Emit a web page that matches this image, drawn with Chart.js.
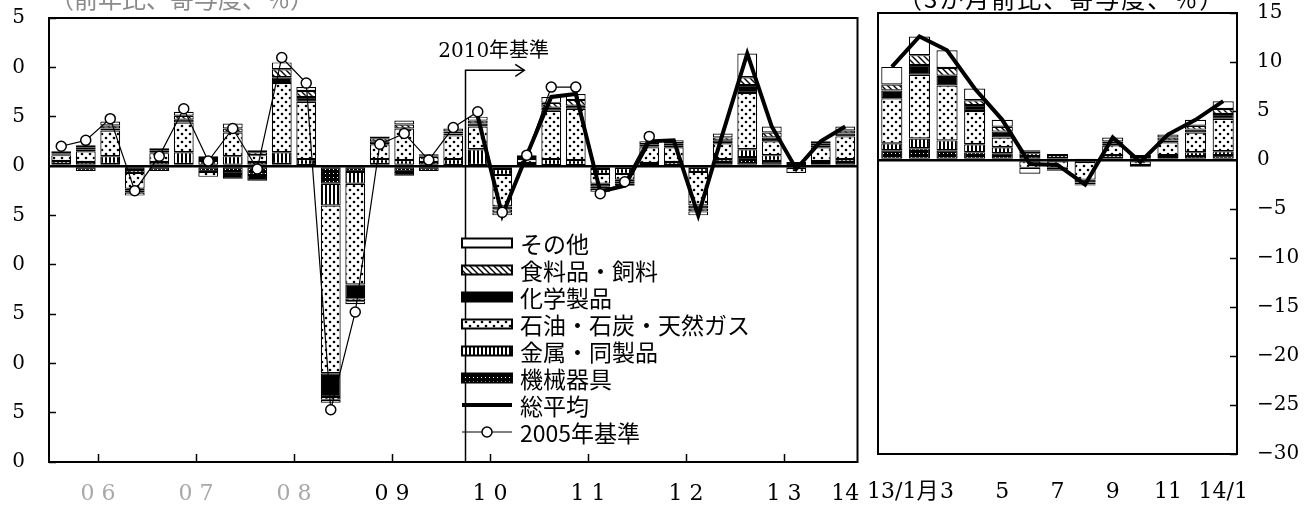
<!DOCTYPE html>
<html>
<head>
<meta charset="utf-8">
<script src="https://cdn.jsdelivr.net/npm/chart.js@4.4.1/dist/chart.umd.min.js"></script>
<style>
  html, body { margin: 0; padding: 0; background: #fff; width: 1304px; height: 506px; overflow: hidden; position: relative; }
  #leftWrap { position: absolute; left: 12px; top: 0; width: 852px; height: 506px; overflow: hidden; }
  #leftChart { position: absolute; left: -60px; top: 0; }
  #rightChart { position: absolute; left: 862px; top: 0; }
  .cap { position: absolute; top: -14px; font-family: "Noto Sans CJK JP", sans-serif; font-size: 24px; line-height: 1; white-space: nowrap; }
</style>
</head>
<body>
<div id="leftWrap"><canvas id="leftChart" width="912" height="506"></canvas></div>
<canvas id="rightChart" width="442" height="506"></canvas>
<div class="cap" style="left:50px; color:#8a8a8a;">（前年比、寄与度、％）</div>
<div class="cap" style="left:898px; letter-spacing:2px;">（3か月前比、寄与度、％）</div>

<script>
// ---- data -------------------------------------------------------------
// Component names, bottom of the stack first
const seriesNames = ['機械器具', '金属・同製品', '石油・石炭・天然ガス', '化学製品', '食料品・飼料', 'その他'];
const totalName = '総平均';
const oldBaseName = '2005年基準';

// Quarterly contributions, 2006 Q1 .. 2014 Q1 (33 quarters)
const qMachinery = [0.2,-0.5,0.2,-0.4,-0.5,0.2,-0.6,-0.8,-0.9,0.2,0.1,-1.8,-0.6,0.2,-0.6,-0.5,0.1,0.1,-0.3,0.1,0.1,0.1,-0.3,-0.2,0.1,0.1,-0.2,0.4,0.9,0.5,0.1,0.3,0.4];
const qMetals    = [0.3,0.4,0.8,-0.3,0.4,1.2,0.5,1.0,0.4,1.2,0.6,-2.2,-1.2,0.5,0.6,0.4,0.6,1.6,-0.6,0.2,0.6,0.5,-0.5,-0.6,0.2,0.3,-0.4,0.3,0.8,0.6,-0.2,0.2,0.3];
const qFuel      = [0.6,1.1,2.6,-1.6,0.9,3.0,-0.5,2.4,0.7,7.0,5.8,-17.0,-10.2,1.5,3.2,0.5,2.4,2.3,-3.2,0.4,4.9,5.2,-1.0,-0.6,1.6,1.5,-3.4,1.6,5.7,1.4,-0.5,1.4,2.3];
const qChem      = [0.1,0.2,0.2,-0.2,0.1,0.3,0.1,-0.5,-0.6,0.6,0.5,-2.4,-1.4,0.3,-0.4,0.1,0.2,0.3,-0.3,0.1,0.3,0.3,-0.3,-0.2,0.1,0.2,-0.3,0.3,0.8,0.4,0.1,0.2,0.3];
const qFood      = [0.1,0.2,0.3,-0.2,0.2,0.4,0.2,0.4,0.3,0.8,0.6,-0.3,-0.3,0.3,0.4,0.1,0.2,0.3,-0.3,0.1,0.5,0.6,-0.2,-0.2,0.2,0.2,-0.3,0.3,0.8,0.5,0.1,0.2,0.3];
const qOther     = [0.2,0.2,0.4,-0.3,0.2,0.4,0.2,0.5,0.2,0.7,0.4,-0.3,-0.3,0.2,0.4,0.1,0.3,0.4,-0.3,0.2,0.6,0.6,-0.3,-0.2,0.3,0.3,-0.4,0.4,2.4,0.6,0.1,0.2,0.4];
// Overall average on the 2010 base, from 2010 Q2 (quarter index 17)
const qTotalFrom = 17;
const qTotal     = [5.0,-5.0,1.1,7.0,7.3,-2.6,-2.0,2.5,2.6,-5.0,3.3,11.4,4.0,-0.3,2.5,4.0];
// Overall average on the 2005 base, 2006 Q1 .. 2012 Q1
const qOldBase   = [2.0,2.6,4.8,-2.5,1.0,5.8,0.5,3.8,-0.3,11.0,8.4,-24.7,-14.8,2.2,3.3,0.6,3.9,5.5,-4.7,1.1,8.0,8.0,-2.8,-1.6,3.0];
const yearLabels = ['0 6', '0 7', '0 8', '0 9', '1 0', '1 1', '1 2', '1 3', '14'];

// Monthly contributions, 2013/1 .. 2014/1
const monthLabels = ['\u2002\u200213/1月', '', '3', '', '5', '', '7', '', '9', '', '11', '', '14/1'];
const mMachinery = [1.0,1.2,1.0,0.8,0.7,0.4,0.2,-0.2,0.2,0.2,0.3,0.4,0.5];
const mMetals    = [0.7,1.0,1.0,0.8,0.6,0.3,0.3,0.1,0.3,0.1,0.2,0.4,0.4];
const mFuel      = [4.6,6.5,5.6,3.4,1.0,-0.8,-0.8,-1.8,1.0,-0.5,1.3,2.0,3.3];
const mChem      = [0.8,1.0,1.0,0.6,0.6,0.2,0.1,-0.3,0.2,0.1,0.2,0.3,0.5];
const mFood      = [0.6,1.0,0.8,0.5,0.5,0.1,-0.2,-0.2,0.2,0.1,0.3,0.4,0.5];
const mOther     = [1.8,1.9,1.8,1.2,0.7,-0.6,-0.1,-0.1,0.4,-0.2,0.3,0.6,0.8];
const mTotal     = [9.5,12.6,11.2,7.3,4.1,-0.4,-0.5,-2.5,2.3,-0.2,2.6,4.1,6.0];

// ---- styling helpers ---------------------------------------------------
Chart.defaults.animation = false;
Chart.defaults.font.family = '"DejaVu Serif", "Noto Sans CJK JP", serif';
Chart.defaults.color = '#000';

function makeFills(ctx) {
  function tile(w, h, draw) {
    const c = document.createElement('canvas');
    c.width = w; c.height = h;
    draw(c.getContext('2d'));
    return ctx.createPattern(c, 'repeat');
  }
  const dot = (g, x, y) => { g.beginPath(); g.arc(x, y, 1.3, 0, Math.PI * 2); g.fill(); };
  return [
    tile(4, 4, g => { g.fillStyle = '#000'; g.fillRect(0, 0, 4, 4); g.fillStyle = '#fff'; g.fillRect(1, 1, 1, 1); }),
    tile(4, 4, g => { g.fillStyle = '#fff'; g.fillRect(0, 0, 4, 4); g.fillStyle = '#000'; g.fillRect(1, 0, 2, 4); }),
    tile(8, 8, g => { g.fillStyle = '#fff'; g.fillRect(0, 0, 8, 8); g.fillStyle = '#000'; dot(g, 2, 2); dot(g, 6, 6); }),
    '#000',
    tile(6, 6, g => {
      g.fillStyle = '#fff'; g.fillRect(0, 0, 6, 6);
      g.strokeStyle = '#000'; g.lineWidth = 1.4; g.beginPath();
      g.moveTo(-1, -1); g.lineTo(7, 7); g.moveTo(-1, 5); g.lineTo(1, 7); g.moveTo(5, -1); g.lineTo(7, 1);
      g.stroke();
    }),
    '#fff'
  ];
}

const fmt = v => (v < 0 ? '\u2212' + Math.abs(v) : String(v));
const zeroGrid = {
  color: c => (c.tick && c.tick.value === 0 ? '#000' : 'rgba(0,0,0,0)'),
  lineWidth: c => (c.tick && c.tick.value === 0 ? 2.5 : 1),
  tickColor: '#000', tickLength: -7, tickWidth: 1.5, drawOnChartArea: true
};

const framePlugin = {
  id: 'frame',
  afterDraw(chart) {
    const { ctx, chartArea: a } = chart;
    ctx.save();
    ctx.strokeStyle = '#000'; ctx.lineWidth = 2;
    ctx.strokeRect(a.left, a.top, a.right - a.left, a.bottom - a.top);
    ctx.restore();
  }
};

// Marker for the switch to the 2010 base, with arrow and caption
const rebasePlugin = {
  id: 'rebase',
  afterDatasetsDraw(chart) {
    const xs = chart.scales.x, ys = chart.scales.y, { ctx, chartArea } = chart;
    const x = xs.getPixelForValue(qTotalFrom);
    const yA = ys.getPixelForValue(9.7);
    const xEnd = xs.getPixelForValue(qTotalFrom + 2.4);
    ctx.save();
    ctx.strokeStyle = '#000'; ctx.lineWidth = 1.5;
    ctx.beginPath(); ctx.moveTo(x, chartArea.bottom); ctx.lineTo(x, yA); ctx.lineTo(xEnd, yA); ctx.stroke();
    ctx.beginPath(); ctx.moveTo(xEnd - 9, yA - 6); ctx.lineTo(xEnd, yA); ctx.lineTo(xEnd - 9, yA + 6); ctx.stroke();
    ctx.fillStyle = '#000';
    ctx.font = '20px "DejaVu Serif", "Noto Sans CJK JP"';
    ctx.textAlign = 'center'; ctx.textBaseline = 'middle';
    ctx.fillText('2010年基準', xs.getPixelForValue(qTotalFrom + 1.15), ys.getPixelForValue(11.6));
    ctx.restore();
  }
};

// Key drawn inside the plot, taking styles from the datasets
const keyPlugin = {
  id: 'key',
  afterDraw(chart) {
    const { ctx, chartArea: a } = chart;
    const ds = chart.data.datasets;
    const items = ds.filter(d => d.type === 'bar').reverse()
      .concat(ds.filter(d => d.label === totalName), ds.filter(d => d.label === oldBaseName));
    const x0 = a.left + 413, y0 = a.top + 225, row = 27, sw = 50, sh = 9;
    ctx.save();
    ctx.font = '23px "Noto Sans CJK JP"';
    ctx.textBaseline = 'middle'; ctx.textAlign = 'left';
    items.forEach((d, i) => {
      const cy = y0 + i * row;
      ctx.strokeStyle = '#000'; ctx.fillStyle = '#000';
      if (d.type === 'bar') {
        ctx.fillStyle = d.backgroundColor;
        ctx.fillRect(x0, cy - sh / 2, sw, sh);
        ctx.lineWidth = 2;
        ctx.strokeRect(x0, cy - sh / 2, sw, sh);
      } else {
        ctx.lineWidth = d.borderWidth;
        ctx.beginPath(); ctx.moveTo(x0, cy); ctx.lineTo(x0 + sw, cy); ctx.stroke();
        if (d.pointRadius) {
          ctx.fillStyle = '#fff'; ctx.lineWidth = 1.5;
          ctx.beginPath(); ctx.arc(x0 + sw / 2, cy, d.pointRadius, 0, Math.PI * 2); ctx.fill(); ctx.stroke();
        }
      }
      ctx.fillStyle = '#000';
      ctx.fillText(d.label, x0 + sw + 8, cy + 1);
    });
    ctx.restore();
  }
};

// ---- quarterly panel ---------------------------------------------------
const leftCanvas = document.getElementById('leftChart');
const leftFills = makeFills(leftCanvas.getContext('2d'));
const qSeries = [qMachinery, qMetals, qFuel, qChem, qFood, qOther];
const yearBounds = [0, 4, 8, 12, 16, 20, 24, 28, 32];
const yearLabelAt = [2, 6, 10, 14, 18, 22, 26, 30, 32.5];

new Chart(leftCanvas, {
  type: 'bar',
  data: {
    datasets: [
      ...qSeries.map((arr, i) => ({
        type: 'bar', label: seriesNames[i],
        data: arr.map((v, k) => ({ x: k + 0.5, y: v })),
        backgroundColor: leftFills[i], borderColor: '#000', borderWidth: 1.2, borderSkipped: false,
        stack: 'parts', order: 2, categoryPercentage: 0.9, barPercentage: 0.9
      })),
      {
        type: 'line', label: totalName,
        data: qTotal.map((v, i) => ({ x: qTotalFrom + i + 0.5, y: v })),
        borderColor: '#000', borderWidth: 4, pointRadius: 0, stack: 'total', order: 1
      },
      {
        type: 'line', label: oldBaseName,
        data: qOldBase.map((v, k) => ({ x: k + 0.5, y: v })),
        borderColor: '#000', borderWidth: 1.2, pointRadius: 5,
        pointBackgroundColor: '#fff', pointBorderColor: '#000', pointBorderWidth: 1.5,
        stack: 'old', order: 0
      }
    ]
  },
  options: {
    responsive: false, devicePixelRatio: 1, events: [],
    layout: { padding: { left: 0, top: 18, right: 4, bottom: 0 } },
    plugins: { legend: { display: false }, tooltip: { enabled: false } },
    scales: {
      x: {
        type: 'linear', min: 0, max: 33, stacked: true, offset: false, position: 'bottom',
        afterBuildTicks: s => { s.ticks = yearBounds.map(v => ({ value: v })); },
        afterFit: s => { s.height = 0; s.paddingLeft = 0; s.paddingRight = 0; },
        grid: { drawOnChartArea: false, drawTicks: true, tickLength: -8, tickColor: '#000', tickWidth: 1.5, color: '#000' },
        border: { display: false },
        ticks: { display: false }
      },
      xLab: {
        type: 'linear', axis: 'x', min: 0, max: 33, offset: false, position: 'bottom',
        afterBuildTicks: s => { s.ticks = yearLabelAt.map(v => ({ value: v })); },
        afterFit: s => { s.height = 44; s.paddingLeft = 0; s.paddingRight = 0; },
        grid: { display: true, drawOnChartArea: false, drawTicks: false, color: 'rgba(0,0,0,0)' },
        border: { display: false },
        ticks: {
          autoSkip: false, maxRotation: 0, padding: 19, font: { size: 22 },
          color: c => (c.index < 3 ? '#a8a8a8' : '#000'),
          callback: (v, i) => yearLabels[i]
        }
      },
      y: {
        min: -30, max: 15, stacked: true, position: 'left',
        afterFit: s => { s.width = 97; s.paddingTop = 0; s.paddingBottom = 0; },
        grid: zeroGrid,
        border: { display: false },
        ticks: { stepSize: 5, padding: 31, font: { size: 20 }, callback: v => fmt(v) }
      }
    }
  },
  plugins: [framePlugin, rebasePlugin, keyPlugin]
});

// ---- monthly panel -----------------------------------------------------
const rightCanvas = document.getElementById('rightChart');
const rightFills = makeFills(rightCanvas.getContext('2d'));
const mSeries = [mMachinery, mMetals, mFuel, mChem, mFood, mOther];

new Chart(rightCanvas, {
  type: 'bar',
  data: {
    labels: monthLabels,
    datasets: [
      ...mSeries.map((arr, i) => ({
        type: 'bar', label: seriesNames[i], data: arr,
        backgroundColor: rightFills[i], borderColor: '#000', borderWidth: 1.2, borderSkipped: false,
        stack: 'parts', order: 2, categoryPercentage: 0.85, barPercentage: 0.9
      })),
      {
        type: 'line', label: totalName, data: mTotal,
        borderColor: '#000', borderWidth: 4, pointRadius: 0, stack: 'total', order: 1
      }
    ]
  },
  options: {
    responsive: false, devicePixelRatio: 1, events: [],
    layout: { padding: { left: 16, top: 13, right: 0, bottom: 0 } },
    plugins: { legend: { display: false }, tooltip: { enabled: false } },
    scales: {
      x: {
        stacked: true, offset: true,
        afterFit: s => { s.height = 52; s.paddingLeft = 0; s.paddingRight = 0; },
        grid: { display: true, drawOnChartArea: false, drawTicks: false, color: 'rgba(0,0,0,0)' },
        border: { display: false },
        ticks: { autoSkip: false, maxRotation: 0, padding: 25, font: { size: 22 } }
      },
      y: {
        min: -30, max: 15, stacked: true, position: 'right',
        afterFit: s => { s.width = 67; s.paddingTop = 0; s.paddingBottom = 0; },
        grid: zeroGrid,
        border: { display: false },
        ticks: { stepSize: 5, padding: 27, font: { size: 20 }, callback: v => fmt(v) }
      }
    }
  },
  plugins: [framePlugin]
});
</script>
</body>
</html>
